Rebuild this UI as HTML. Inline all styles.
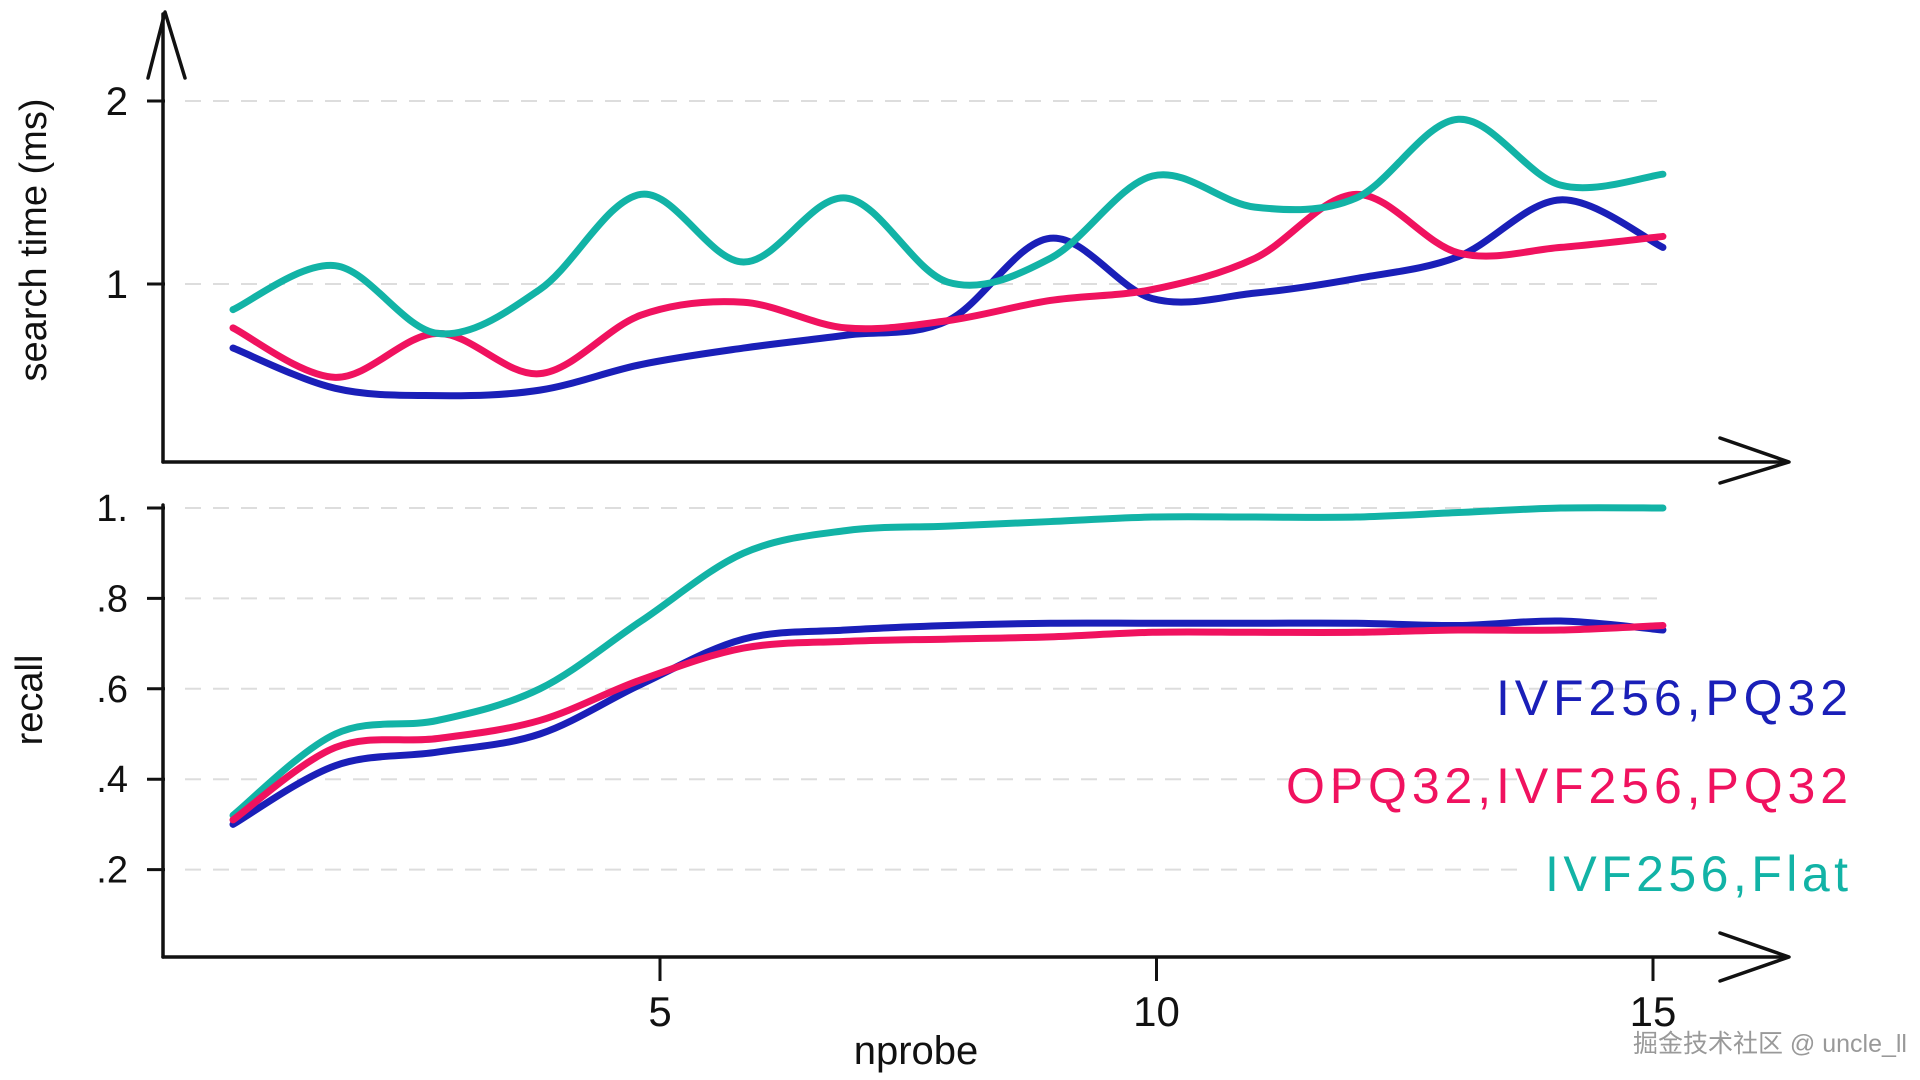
<!DOCTYPE html>
<html><head><meta charset="utf-8"><style>
body{margin:0;background:#fff;}
svg{display:block;font-family:"Liberation Sans","Noto Sans CJK SC",sans-serif;}
</style></head><body>
<svg id="c" width="1920" height="1080"></svg>
<script>
const xs=[0.7,1.73,2.76,3.79,4.81,5.84,6.87,7.9,8.93,9.96,10.99,12.01,13.04,14.07,15.1];
const timeFlat=[0.86,1.1,0.73,0.97,1.49,1.12,1.47,1.01,1.14,1.59,1.42,1.47,1.9,1.54,1.6];
const timeOPQ=[0.76,0.49,0.73,0.51,0.83,0.9,0.76,0.8,0.91,0.97,1.14,1.49,1.17,1.2,1.26];
const timePQ=[0.65,0.43,0.39,0.42,0.56,0.65,0.72,0.8,1.25,0.92,0.95,1.03,1.15,1.46,1.2];
const recFlat=[0.32,0.5,0.53,0.6,0.75,0.9,0.95,0.96,0.97,0.98,0.98,0.98,0.99,1.0,1.0];
const recPQ=[0.3,0.43,0.46,0.5,0.61,0.71,0.73,0.74,0.745,0.745,0.745,0.745,0.74,0.75,0.73];
const recOPQ=[0.31,0.47,0.49,0.53,0.62,0.69,0.705,0.71,0.715,0.725,0.725,0.725,0.73,0.73,0.74];
const xTicks=[5,10,15];
const timeTicks=[1,2];
const timeTickLabels=["1","2"];
const recTicks=[0.2,0.4,0.6,0.8,1.0];
const recTickLabels=[".2",".4",".6",".8","1."];

const NS="http://www.w3.org/2000/svg";
const svg=document.getElementById('c');
const X=v=>660+(v-5)*99.3;
const YT=v=>284-(v-1)*183;
const YR=v=>508+(1-v)*452;
function mk(tag,attrs,parent){const e=document.createElementNS(NS,tag);for(const k in attrs)e.setAttribute(k,attrs[k]);(parent||svg).appendChild(e);return e;}
function spline(pts){let d=`M${pts[0][0]},${pts[0][1]}`;for(let i=0;i<pts.length-1;i++){const p0=pts[Math.max(0,i-1)],p1=pts[i],p2=pts[i+1],p3=pts[Math.min(pts.length-1,i+2)];const t=1/3;d+=` C${p1[0]+(p2[0]-p0[0])*t/2},${p1[1]+(p2[1]-p0[1])*t/2} ${p2[0]-(p3[0]-p1[0])*t/2},${p2[1]-(p3[1]-p1[1])*t/2} ${p2[0]},${p2[1]}`;}return d;}
timeTicks.forEach((t,i)=>{
 const g=mk('line',{x1:185,x2:1660,y1:YT(t),y2:YT(t),stroke:'#ddd','stroke-width':2,'stroke-dasharray':'16 12'});
 
 const tk=mk('line',{x1:147,x2:165,y1:YT(t),y2:YT(t),stroke:'#111','stroke-width':3});
 
 const l=mk('text',{x:128,y:YT(t)+14,'font-size':40,'text-anchor':'end',fill:'#111'});l.textContent=timeTickLabels[i];
 
});
recTicks.forEach((t,i)=>{
 const g=mk('line',{x1:185,x2:t<0.5?1520:1660,y1:YR(t),y2:YR(t),stroke:'#ddd','stroke-width':2,'stroke-dasharray':'16 12'});
 
 const tk=mk('line',{x1:147,x2:165,y1:YR(t),y2:YR(t),stroke:'#111','stroke-width':3});
 
 const l=mk('text',{x:128,y:YR(t)+13,'font-size':38,'text-anchor':'end',fill:'#111'});l.textContent=recTickLabels[i];
 
});
[['M163,462 L163,14','y-axis-top'],['M148,78 L165,12 L185,78','y-axis-arrow'],['M163,462 L1785,462','x-axis-top'],['M1720,438 L1789,462 L1720,483','x-axis-top-arrow'],['M163,957 L163,505','y-axis-bottom'],['M163,957 L1785,957','x-axis-bottom'],['M1720,933 L1789,957 L1720,981','x-axis-bottom-arrow']].forEach(a=>{
 const p=mk('path',{d:a[0],fill:'none',stroke:'#111','stroke-width':3.5,'stroke-linecap':'round','stroke-linejoin':'round'});
 
});
xTicks.forEach(t=>{
 const tk=mk('line',{x1:X(t),x2:X(t),y1:957,y2:981,stroke:'#111','stroke-width':3});
 
 const l=mk('text',{x:X(t),y:1026,'font-size':42,'text-anchor':'middle',fill:'#111'});l.textContent=t;
 
});
const series=[[timePQ,YT,'#1a1fb8','time-line-ivf256-pq32'],[timeOPQ,YT,'#f0125f','time-line-opq32'],[timeFlat,YT,'#12b3a6','time-line-ivf256-flat'],[recFlat,YR,'#12b3a6','recall-line-ivf256-flat'],[recPQ,YR,'#1a1fb8','recall-line-ivf256-pq32'],[recOPQ,YR,'#f0125f','recall-line-opq32']];
series.forEach(s=>{
 const pts=xs.map((x,i)=>[X(x),s[1](s[0][i])]);
 const p=mk('path',{d:spline(pts),fill:'none',stroke:s[2],'stroke-width':7,'stroke-linecap':'round'});
 
});
function txt(x,y,s,attrs,name){const t=mk('text',Object.assign({x:x,y:y},attrs));t.textContent=s;return t;}
txt(1848,715,'IVF256,PQ32',{'font-size':50,'text-anchor':'end',fill:'#1a1fb8',textLength:352},'legend-ivf256-pq32');
txt(1848,803,'OPQ32,IVF256,PQ32',{'font-size':50,'text-anchor':'end',fill:'#f0125f',textLength:562},'legend-opq32-ivf256-pq32');
txt(1848,891,'IVF256,Flat',{'font-size':50,'text-anchor':'end',fill:'#12b3a6',textLength:303},'legend-ivf256-flat');
txt(0,0,'search time (ms)',{'font-size':38,'text-anchor':'middle',fill:'#111',transform:'translate(46,240) rotate(-90)'},'y-axis-title-time');
txt(0,0,'recall',{'font-size':38,'text-anchor':'middle',fill:'#111',transform:'translate(42,700) rotate(-90)'},'y-axis-title-recall');
txt(916,1064,'nprobe',{'font-size':40,'text-anchor':'middle',fill:'#111'},'x-axis-title');
txt(1907,1052,'掘金技术社区 @ uncle_ll',{'font-size':25,'text-anchor':'end',fill:'#999'},'watermark');
</script>
</body></html>
